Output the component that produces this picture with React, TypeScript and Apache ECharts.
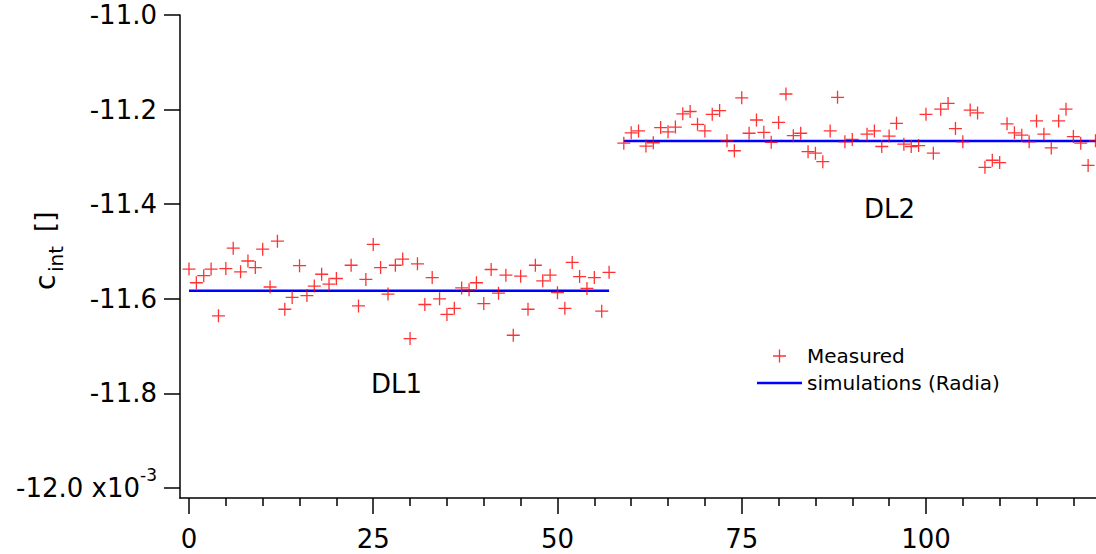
import React, { useEffect, useRef } from "react";
import * as echarts from "echarts";

// DL1 measured values (x = dl1Start + index), null = no point
const dl1Start = 0;
const dl1Values: (number | null)[] = [
  -11.537, -11.566, -11.551, -11.537, -11.636, -11.536, -11.493, -11.543, -11.52, -11.534,
  -11.495, -11.575, -11.478, -11.622, -11.597, -11.53, -11.593, -11.573, -11.548, -11.569,
  -11.557, null, -11.529, -11.615, -11.559, -11.485, -11.534, -11.59, -11.529, -11.516,
  -11.684, -11.526, -11.612, -11.555, -11.6, -11.633, -11.62, -11.577, -11.581, -11.566,
  -11.61, -11.538, -11.588, -11.55, -11.677, -11.552, -11.622, -11.529, -11.562, -11.55,
  -11.587, -11.62, -11.523, -11.553, -11.578, -11.555, -11.626, -11.544,
];

// DL2 measured values (x = dl2Start + index)
const dl2Start = 59;
const dl2Values: (number | null)[] = [
  -11.271, -11.249, -11.245, -11.277, -11.27, -11.238, -11.247, -11.237, -11.209, -11.204,
  -11.231, -11.245, -11.21, -11.202, -11.266, -11.287, -11.175, -11.25, -11.222, -11.248,
  -11.269, -11.227, -11.167, -11.255, -11.25, -11.289, -11.292, -11.31, -11.245, -11.174,
  -11.268, -11.263, null, -11.252, -11.245, -11.278, -11.256, -11.229, -11.273, -11.278,
  -11.276, -11.21, -11.292, -11.199, -11.187, -11.24, -11.268, -11.201, -11.207, -11.322,
  -11.307, -11.312, -11.23, -11.249, -11.254, -11.268, -11.224, -11.252, -11.281, -11.224,
  -11.199, -11.257, -11.271, -11.318, -11.266, -11.222,
];

// Simulation (Radia) levels
const simDL1X = [0, 57];
const simDL1Y = [-11.583, -11.583];
const simDL2X = [59, 126];
const simDL2Y = [-11.2664, -11.2664];

const yTicks = [-12.0, -11.8, -11.6, -11.4, -11.2, -11.0];
const xMajorTicks = [0, 25, 50, 75, 100];
const xMinorTicks = [5, 10, 15, 20, 30, 35, 40, 45, 55, 60, 65, 70, 80, 85, 90, 95, 105, 110, 115, 120];

const FONT = "DejaVu Sans";
const PLUS = "path://M58.5,0h13v58.5h58.5v13h-58.5v58.5h-13v-58.5h-58.5v-13h58.5z";
const LINE_ICON = "path://M0,0H180V10H0Z";

function toPoints(start: number, vals: (number | null)[]) {
  const out: number[][] = [];
  vals.forEach((v, i) => {
    if (v !== null) out.push([start + i, v]);
  });
  return out;
}

export default function App() {
  const ref = useRef<HTMLDivElement>(null);
  useEffect(() => {
    if (!ref.current) return;
    const chart = echarts.init(ref.current, null, { renderer: "svg" });
    const measured = [...toPoints(dl1Start, dl1Values), ...toPoints(dl2Start, dl2Values)];
    const xMin = -1.22;
    const xMax = 123.07;
    chart.setOption({
      animation: false,
      backgroundColor: "#ffffff",
      textStyle: { fontFamily: FONT },
      grid: { left: 180, right: 0, top: 15, bottom: 56, containLabel: false },
      xAxis: [
        {
          type: "value",
          min: xMin,
          max: xMax,
          position: "bottom",
          axisLine: { show: true, onZero: false, lineStyle: { color: "#000", width: 1.5 } },
          axisTick: { show: true, customValues: xMajorTicks, length: 16, lineStyle: { color: "#000", width: 1.5 } },
          axisLabel: {
            show: true,
            customValues: xMajorTicks,
            margin: 28,
            fontSize: 26,
            fontFamily: FONT,
            color: "#000",
            formatter: (v: number) => String(Math.round(v)),
          },
          splitLine: { show: false },
        },
        {
          type: "value",
          min: xMin,
          max: xMax,
          position: "bottom",
          axisLine: { show: false, onZero: false },
          axisTick: { show: true, customValues: xMinorTicks, length: 8, lineStyle: { color: "#000", width: 1.5 } },
          axisLabel: { show: false },
          splitLine: { show: false },
        },
      ],
      yAxis: {
        type: "value",
        min: -12.021,
        max: -11.0,
        axisLine: { show: true, onZero: false, lineStyle: { color: "#000", width: 1.5 } },
        axisTick: { show: true, customValues: yTicks, length: 16, lineStyle: { color: "#000", width: 1.5 } },
        axisLabel: {
          show: true,
          customValues: yTicks,
          margin: 23,
          fontSize: 26,
          fontFamily: FONT,
          color: "#000",
          formatter: (v: number) =>
            Math.abs(v + 12) < 1e-6 ? "{n|-12.0 x10}{s|-3}" : "{n|" + v.toFixed(1) + "}",
          rich: {
            n: { fontSize: 26, fontFamily: FONT, color: "#000", verticalAlign: "middle" },
            s: { fontSize: 17, fontFamily: FONT, color: "#000", verticalAlign: "top", padding: [0, 0, 26, 0] },
          },
        },
        splitLine: { show: false },
      },
      legend: {
        orient: "vertical",
        left: 752,
        top: 341,
        itemWidth: 45,
        itemHeight: 13,
        itemGap: 7,
        selectedMode: false,
        textStyle: { fontSize: 20, fontFamily: FONT, color: "#000" },
        data: [
          { name: "Measured", icon: PLUS },
          { name: "simulations (Radia)", icon: LINE_ICON, itemStyle: { color: "#0000ff" } },
        ],
      },
      series: [
        {
          name: "Measured",
          type: "scatter",
          symbol: PLUS,
          symbolSize: 13,
          clip: false,
          itemStyle: { color: "#ff0000" },
          data: measured,
          z: 3,
        },
        {
          name: "simulations (Radia)",
          type: "line",
          showSymbol: false,
          symbol: "none",
          lineStyle: { color: "#0000ff", width: 2.5 },
          itemStyle: { color: "#0000ff" },
          data: simDL1X.map((x, i) => [x, simDL1Y[i]]),
          z: 2,
        },
        {
          name: "simulations (Radia)",
          type: "line",
          showSymbol: false,
          symbol: "none",
          lineStyle: { color: "#0000ff", width: 2.5 },
          itemStyle: { color: "#0000ff" },
          data: simDL2X.map((x, i) => [x, simDL2Y[i]]),
          z: 2,
        },
      ],
      graphic: [
        {
          type: "text",
          left: 371,
          top: 371,
          style: { text: "DL1", fontSize: 26, fontFamily: FONT, fill: "#000" },
        },
        {
          type: "text",
          left: 864,
          top: 196,
          style: { text: "DL2", fontSize: 26, fontFamily: FONT, fill: "#000" },
        },
        {
          type: "group",
          x: 45,
          y: 290,
          rotation: Math.PI / 2,
          children: [
            {
              type: "text",
              x: 0,
              y: 0,
              style: { text: "c", fontSize: 28, fontFamily: FONT, fill: "#000", verticalAlign: "middle", align: "left" },
            },
            {
              type: "text",
              x: 18,
              y: 11,
              style: { text: "int", fontSize: 20, fontFamily: FONT, fill: "#000", verticalAlign: "middle", align: "left" },
            },
            {
              type: "text",
              x: 58,
              y: 0,
              style: { text: "[]", fontSize: 26, fontFamily: FONT, fill: "#000", verticalAlign: "middle", align: "left" },
            },
          ],
        },
      ],
    });
    return () => chart.dispose();
  }, []);
  return (
    <div
      ref={ref}
      style={{ position: "absolute", left: 0, top: 0, width: 1096, height: 554, background: "#fff" }}
    />
  );
}
